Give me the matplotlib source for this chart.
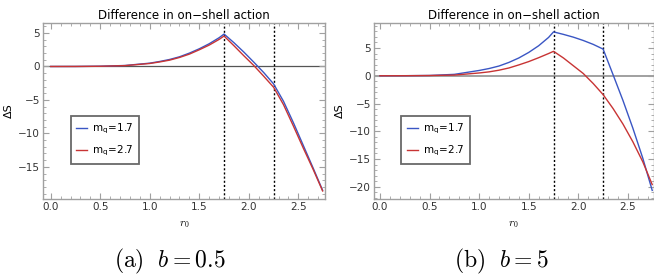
import matplotlib
matplotlib.use("Agg")
import matplotlib.pyplot as plt
from matplotlib.ticker import MultipleLocator

# r0 grid (shared by both panels)
r0 = [0.0, 0.25, 0.5, 0.75, 1.0, 1.1, 1.2, 1.3, 1.4, 1.5, 1.6, 1.7, 1.75,
      1.85, 1.95, 2.05, 2.15, 2.25, 2.35, 2.45, 2.55, 2.65, 2.745]

# (a) b = 0.5
dS_a_mq17 = [0, 0.005, 0.04, 0.15, 0.5, 0.75, 1.05, 1.45, 2.0, 2.65, 3.4, 4.3, 4.85,
             3.55, 2.15, 0.65, -0.9, -2.6, -5.2, -8.4, -11.8, -15.2, -18.5]
dS_a_mq27 = [0, 0.005, 0.035, 0.13, 0.45, 0.68, 0.95, 1.35, 1.85, 2.5, 3.2, 4.05, 4.55,
             3.1, 1.6, 0.15, -1.45, -3.1, -5.7, -8.9, -12.2, -15.4, -18.6]

# (b) b = 5
dS_b_mq17 = [0, 0.01, 0.05, 0.25, 0.95, 1.3, 1.75, 2.4, 3.2, 4.2, 5.4, 6.9, 7.9,
             7.45, 6.95, 6.35, 5.65, 4.8, 0.2, -4.45, -9.45, -14.85, -20.65]
dS_b_mq27 = [0, 0.005, 0.04, 0.12, 0.5, 0.7, 1.0, 1.4, 1.95, 2.55, 3.25, 4.0, 4.4,
             3.2, 1.8, 0.4, -1.4, -3.4, -5.9, -8.7, -11.9, -15.5, -19.6]

r_marks = [1.75, 2.25]
labels = ["m$_\\mathregular{q}$=1.7", "m$_\\mathregular{q}$=2.7"]
captions = ["$\\mathrm{(a)}\\ \\ b = 0.5$", "$\\mathrm{(b)}\\ \\ b = 5$"]

plt.rcParams["mathtext.fontset"] = "cm"
plt.rcParams["font.family"] = "DejaVu Sans"

BLUE = "#3a56c4"
RED = "#c83434"
FRAME = "#a0a0a0"


def draw_panel(ax, y17, y27, xlim, ylim, zero_color, zero_lw):
    ax.axhline(0, color=zero_color, lw=zero_lw, zorder=1)
    for xm in r_marks:
        ax.axvline(xm, color="black", lw=1.0, ls=(0, (1.5, 1.5)), zorder=2)
    ax.plot(r0, y17, color=BLUE, lw=1.0, label=labels[0], zorder=3)
    ax.plot(r0, y27, color=RED, lw=1.0, label=labels[1], zorder=3)

    ax.set_xlim(*xlim)
    ax.set_ylim(*ylim)
    ax.xaxis.set_major_locator(MultipleLocator(0.5))
    ax.xaxis.set_minor_locator(MultipleLocator(0.1))
    ax.yaxis.set_major_locator(MultipleLocator(5))
    ax.yaxis.set_minor_locator(MultipleLocator(1))
    ax.xaxis.set_major_formatter(plt.FuncFormatter(lambda v, p: f"{v:.1f}"))
    ax.yaxis.set_major_formatter(
        plt.FuncFormatter(lambda v, p: f"{v:.0f}".replace("-", "\u2212")))
    ax.tick_params(which="both", direction="in", top=True, right=True,
                   colors=FRAME, labelcolor="#333333", labelsize=7.5, pad=2)
    ax.tick_params(which="major", length=4, width=0.8)
    ax.tick_params(which="minor", length=2, width=0.6)
    for s in ax.spines.values():
        s.set_color(FRAME)
        s.set_linewidth(1.0)

    ax.set_title("Difference in on\u2212shell action", fontsize=8.5, pad=3)
    ax.set_xlabel("$r_0$", fontsize=8, labelpad=5)
    ax.set_ylabel("\u0394S", fontsize=8, labelpad=3)

    leg = ax.legend(loc="upper left", bbox_to_anchor=(0.098, 0.472),
                    fontsize=7.5, frameon=True, fancybox=False,
                    handlelength=1.0, handletextpad=0.5, labelspacing=0.75,
                    borderpad=0.55, borderaxespad=0)
    leg.get_frame().set_edgecolor("#444444")
    leg.get_frame().set_linewidth(1.3)


fig = plt.figure(figsize=(6.54, 2.76), dpi=100)

ax1 = fig.add_axes([43 / 654, 1 - 199 / 276, 282 / 654, 176 / 276])
draw_panel(ax1, dS_a_mq17, dS_a_mq27, (-0.078, 2.769), (-19.8, 6.5), "#555555", 0.9)

ax2 = fig.add_axes([374 / 654, 1 - 199 / 276, 279.5 / 654, 176 / 276])
draw_panel(ax2, dS_b_mq17, dS_b_mq27, (-0.06, 2.758), (-22.2, 9.5), "#999999", 1.3)

fig.text(170 / 654, 1 - 261 / 276, captions[0], fontsize=17, ha="center", va="center")
fig.text(501 / 654, 1 - 261 / 276, captions[1], fontsize=17, ha="center", va="center")

fig.savefig("out.png", dpi=100)
